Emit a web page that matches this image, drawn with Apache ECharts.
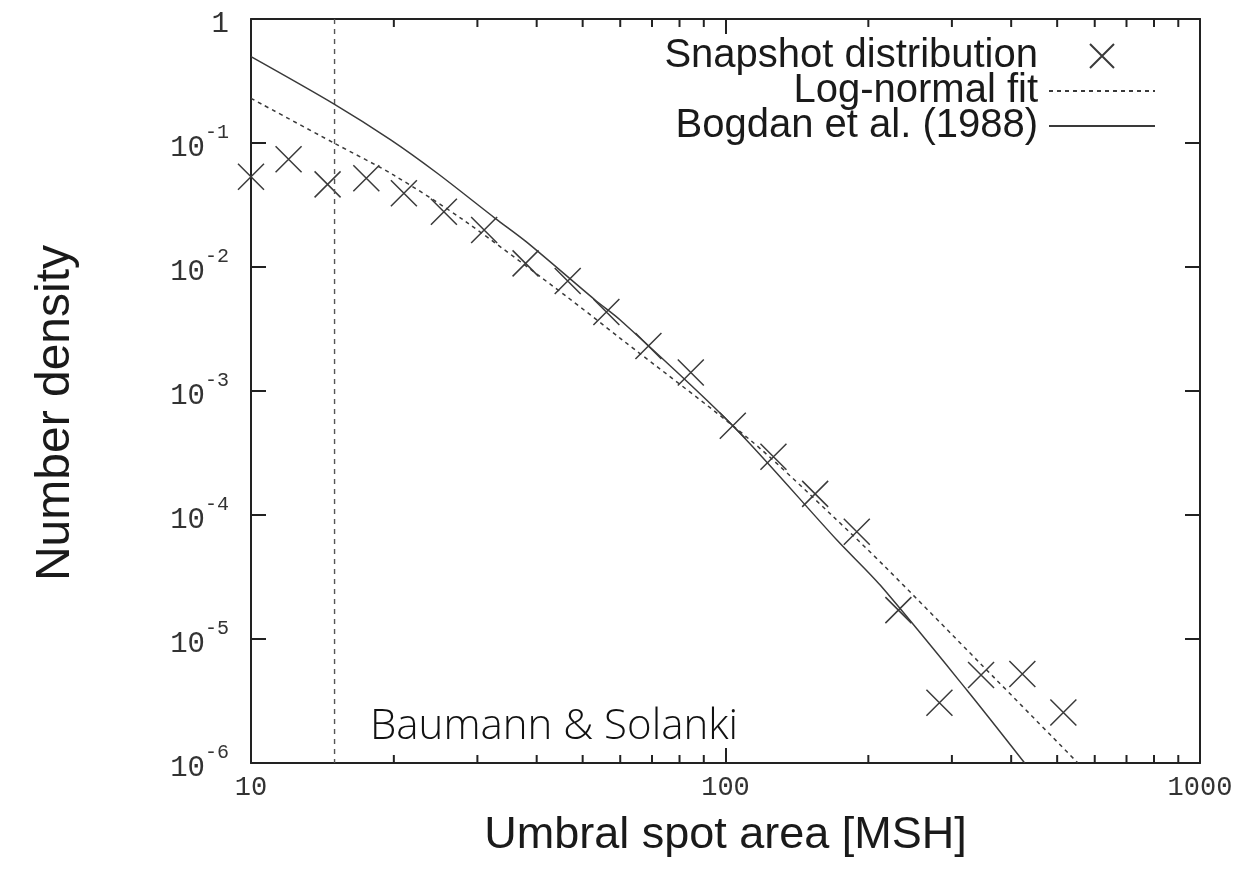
<!DOCTYPE html>
<html>
<head>
<meta charset="utf-8">
<script src="https://cdn.jsdelivr.net/npm/echarts@6/dist/echarts.min.js"></script>
<style>
html,body{margin:0;padding:0;background:#fff;}
#chart{width:1245px;height:874px;}
</style>
</head>
<body>
<div id="chart"></div>
<script>
// ---- data ----
const snapX = [10, 12.0, 14.5, 17.5, 21.0, 25.5, 31.0, 37.9, 46.5, 56.1, 68.8, 84.5, 103.6, 126.2, 154.5, 189.1, 231.4, 282.4, 345.6, 422.3, 515.3];
const snapY = [0.0535, 0.0739, 0.0464, 0.0519, 0.0393, 0.0279, 0.0199, 0.0107, 0.0077, 0.00434, 0.00231, 0.00141, 5.25e-4, 2.95e-4, 1.48e-4, 7.33e-5, 1.71e-5, 3.06e-6, 5.13e-6, 5.22e-6, 2.55e-6];

const fitX = [10, 15, 20, 28, 46.3, 60, 112.7, 168.8, 216.8, 344, 553];
const fitY = [0.229, 0.0994, 0.055, 0.024, 0.00576, 0.00266, 4.03e-4, 9.68e-5, 3.83e-5, 6.37e-6, 1e-6];

const bogX = [10, 15, 19.7, 24.7, 32.7, 38, 53.1, 60, 103.6, 171.7, 211.8, 322.5, 427];
const bogY = [0.497, 0.205, 0.106, 0.057, 0.0247, 0.016, 0.00542, 0.00374, 5.25e-4, 6.28e-5, 2.72e-5, 3.88e-6, 1e-6];

const cutoffX = 15;               // vertical dotted line
const xMin = 10, xMax = 1000;
const yMin = 1e-6, yMax = 1;
const minorX = [20, 30, 40, 50, 60, 70, 80, 90, 200, 300, 400, 500, 600, 700, 800, 900];

const seriesNames = ['Snapshot distribution', 'Log-normal fit', 'Bogdan et al. (1988)'];
const xName = 'Umbral spot area [MSH]';
const yName = 'Number density';
const watermark = 'Baumann & Solanki';

// ---- chart ----
const ink = '#222';
const lineInk = '#3a3a3a';
const mono = "'Liberation Mono', 'DejaVu Sans Mono', monospace";
const sans = "'Liberation Sans', Arial, sans-serif";

const chart = echarts.init(document.getElementById('chart'), null, {renderer: 'canvas'});

function zip(a, b) { return a.map((v, i) => [v, b[i]]); }

const crossPath = 'path://M0,0L10,10M10,0L0,10';
const hiddenSymbol = {color: 'rgba(0,0,0,0)', borderColor: 'rgba(0,0,0,0)', borderWidth: 0, opacity: 0};

const option = {
  animation: false,
  backgroundColor: '#ffffff',
  grid: {left: 251, right: 45, top: 19, bottom: 111, containLabel: false},
  legend: {
    data: [
      {name: seriesNames[0]},
      {name: seriesNames[1], itemStyle: hiddenSymbol},
      {name: seriesNames[2], itemStyle: hiddenSymbol}
    ],
    orient: 'vertical',
    right: 84,
    top: 31,
    align: 'right',
    itemWidth: 106,
    itemHeight: 24,
    itemGap: -5,
    selectedMode: false,
    textStyle: {fontFamily: sans, fontSize: 40, color: '#1a1a1a', padding: [0, 6, 0, 0]}
  },
  xAxis: [{
    type: 'log', logBase: 10, min: xMin, max: xMax, interval: 1,
    position: 'bottom',
    name: xName, nameLocation: 'middle', nameGap: 50,
    nameTextStyle: {fontFamily: sans, fontSize: 45, color: '#1a1a1a'},
    axisLine: {show: true, lineStyle: {color: ink, width: 2}},
    axisTick: {show: true, inside: true, length: 15, lineStyle: {color: ink, width: 2}},
    axisLabel: {show: true, margin: 11, fontFamily: mono, fontSize: 27, color: '#333',
      formatter: v => String(Math.round(v))},
    splitLine: {show: false},
    minorTick: {show: false}
  }, {
    type: 'log', logBase: 10, min: xMin, max: xMax, interval: 1,
    position: 'top',
    axisLine: {show: true, lineStyle: {color: ink, width: 2}},
    axisTick: {show: true, inside: true, length: 15, lineStyle: {color: ink, width: 2}},
    axisLabel: {show: false},
    splitLine: {show: false}
  }],
  yAxis: [{
    type: 'log', logBase: 10, min: yMin, max: yMax, interval: 1, splitNumber: 6,
    position: 'left',
    name: yName, nameLocation: 'middle', nameGap: 171, nameRotate: 90,
    nameTextStyle: {fontFamily: sans, fontSize: 48, color: '#1a1a1a', padding: [0, 44, 0, 0]},
    axisLine: {show: true, lineStyle: {color: ink, width: 2}},
    axisTick: {show: true, inside: true, length: 15, lineStyle: {color: ink, width: 2}},
    axisLabel: {
      show: true, margin: 22,
      formatter: function (v) {
        const e = Math.round(Math.log10(v));
        if (e === 0) return '{b|1}';
        return '{b|10}{s|' + e + '}';
      },
      rich: {
        b: {fontFamily: mono, fontSize: 29, color: '#333', lineHeight: 40, verticalAlign: 'bottom'},
        s: {fontFamily: mono, fontSize: 20, color: '#333', lineHeight: 20, verticalAlign: 'top'}
      }
    },
    splitLine: {show: false}
  }, {
    type: 'log', logBase: 10, min: yMin, max: yMax, interval: 1, splitNumber: 6,
    position: 'right',
    axisLine: {show: true, lineStyle: {color: ink, width: 2}},
    axisTick: {show: true, inside: true, length: 15, lineStyle: {color: ink, width: 2}},
    axisLabel: {show: false},
    splitLine: {show: false}
  }],
  graphic: [{
    type: 'text', left: 370, top: 706, silent: true,
    style: {text: watermark, font: "300 42px 'Open Sans'", fill: '#111'}
  }],
  series: [
    {
      name: 'minor-ticks', type: 'custom', xAxisIndex: 0, yAxisIndex: 0,
      silent: true, clip: false,
      data: minorX.map(v => [v]),
      encode: {x: 0},
      renderItem: function (params, api) {
        const b = api.coord([api.value(0), yMin]);
        const t = api.coord([api.value(0), yMax]);
        const st = {stroke: ink, lineWidth: 2};
        return {type: 'group', children: [
          {type: 'line', shape: {x1: b[0], y1: b[1], x2: b[0], y2: b[1] - 8}, style: st},
          {type: 'line', shape: {x1: t[0], y1: t[1], x2: t[0], y2: t[1] + 8}, style: st}
        ]};
      }
    },
    {
      name: 'cutoff', type: 'line', silent: true,
      data: [[cutoffX, yMax], [cutoffX, yMin]],
      showSymbol: false, symbol: 'none',
      lineStyle: {color: '#555', width: 1.4, type: [5, 5]}
    },
    {
      name: seriesNames[1], type: 'line', silent: true,
      data: zip(fitX, fitY), smooth: 0.3,
      showSymbol: false,
      lineStyle: {color: lineInk, width: 1.5, type: [4, 4]},
      itemStyle: {color: lineInk}
    },
    {
      name: seriesNames[2], type: 'line', silent: true,
      data: zip(bogX, bogY), smooth: 0.3,
      showSymbol: false,
      lineStyle: {color: lineInk, width: 1.5, type: 'solid'},
      itemStyle: {color: lineInk}
    },
    {
      name: seriesNames[0], type: 'scatter', silent: true,
      data: zip(snapX, snapY),
      symbol: crossPath, symbolSize: 26,
      itemStyle: {color: 'rgba(0,0,0,0)', borderColor: '#3a3a3a', borderWidth: 1.5, opacity: 1}
    }
  ]
};
chart.setOption(option);
</script>
</body>
</html>
